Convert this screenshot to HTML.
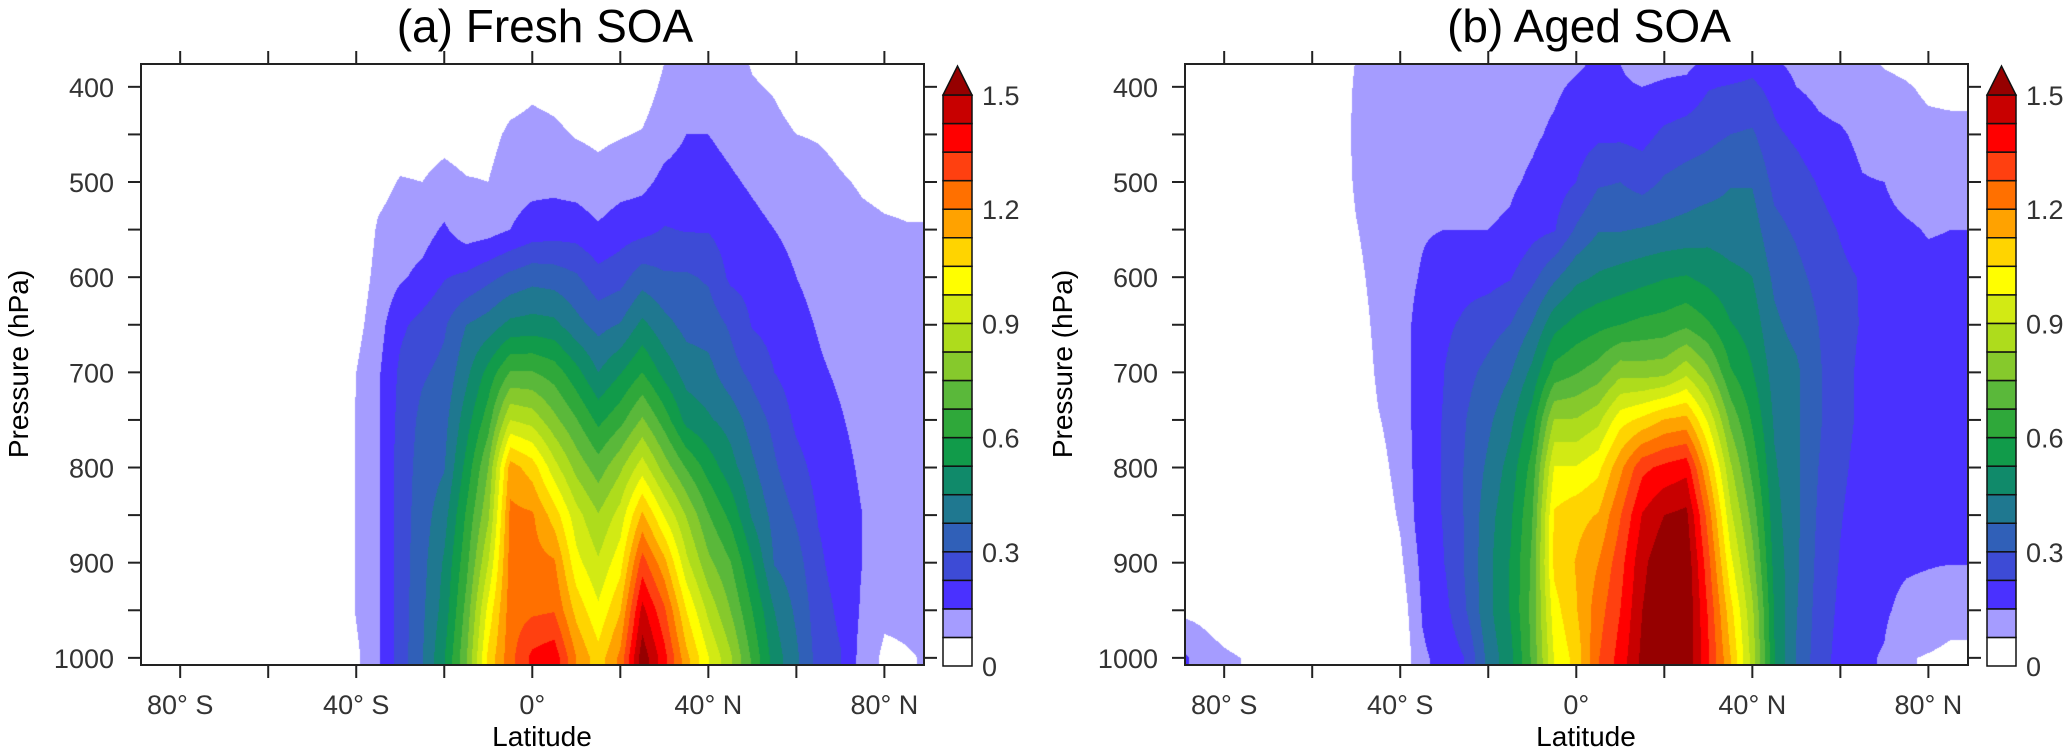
<!DOCTYPE html>
<html><head><meta charset="utf-8"><title>Fresh and aged SOA zonal mean</title>
<style>
body{margin:0;background:#fff}
#wrap{position:relative;width:2067px;height:748px;overflow:hidden;background:#fff}
canvas{position:absolute}
svg{position:absolute;left:0;top:0}
.tk{font-family:"Liberation Sans",sans-serif;font-size:27px;fill:#333}
.ttl{font-family:"Liberation Sans",sans-serif;font-size:46px;fill:#000}
.ax{font-family:"Liberation Sans",sans-serif;font-size:28px;fill:#000}
</style></head>
<body>
<div id="wrap">
<canvas id="cA" width="783" height="601" style="left:141px;top:64px"></canvas>
<canvas id="cB" width="783" height="601" style="left:1185px;top:64px"></canvas>
<svg id="ov" width="2067" height="748"></svg>
</div>
<script>
const levels = [375,400,450,500,550,600,650,700,750,800,850,900,950,1000];
const lats = [-90,-85,-80,-75,-70,-65,-60,-55,-50,-45,-40,-35,-30,-25,-20,-15,-10,-5,0,5,10,15,20,25,30,35,40,45,50,55,60,65,70,75,80,85,90];
const freshValues = [
[0,0,0,0,0,0,0,0,0,0,0,0,0,0],
[0,0,0,0,0,0,0,0,0,0,0,0,0,0],
[0,0,0,0,0,0,0,0,0,0,0,0,0,0],
[0,0,0,0,0,0,0,0,0,0,0,0,0,0],
[0,0,0,0,0,0,0,0,0,0,0,0,0,0],
[0,0,0,0,0,0,0,0,0,0,0,0,0,0],
[0,0,0,0,0,0,0,0,0,0,0,0,0,0],
[0,0,0,0,0,0,0,0,0,0,0,0,0,0],
[0,0,0,0,0,0,0,0,0,0,0,0,0,0],
[0,0,0,0,0,0,0,0,0,0,0,0,0,0],
[0,0,0,0,0.01,0.03,0.05,0.075,0.08,0.08,0.08,0.08,0.08,0.06],
[0,0,0.02,0.05,0.085,0.1,0.12,0.14,0.14,0.14,0.14,0.14,0.14,0.14],
[0,0.01,0.04,0.08,0.11,0.14,0.21,0.24,0.25,0.26,0.26,0.26,0.26,0.26],
[0,0.01,0.04,0.075,0.12,0.17,0.25,0.29,0.32,0.33,0.34,0.35,0.36,0.37],
[0,0.01,0.05,0.1,0.16,0.22,0.29,0.32,0.35,0.37,0.42,0.46,0.48,0.52],
[0,0.01,0.04,0.08,0.11,0.24,0.375,0.43,0.49,0.55,0.61,0.65,0.7,0.74],
[0,0.02,0.05,0.075,0.12,0.28,0.41,0.55,0.64,0.75,0.81,0.9,1.0,1.07],
[0,0.04,0.09,0.12,0.15,0.32,0.47,0.68,0.9,1.16,1.22,1.23,1.24,1.25],
[0.02,0.06,0.1,0.13,0.18,0.35,0.48,0.68,0.87,1.09,1.21,1.23,1.26,1.37],
[0.02,0.05,0.09,0.13,0.19,0.34,0.47,0.64,0.77,0.93,1.09,1.21,1.27,1.4],
[0,0.03,0.07,0.12,0.19,0.31,0.4,0.55,0.68,0.8,0.93,1.0,1.1,1.2],
[0,0.02,0.06,0.1,0.16,0.25,0.35,0.45,0.58,0.71,0.83,0.91,0.99,1.08],
[0,0.02,0.07,0.12,0.19,0.27,0.38,0.52,0.65,0.81,0.93,1.02,1.12,1.22],
[0.02,0.04,0.08,0.13,0.2,0.34,0.47,0.6,0.76,0.94,1.14,1.31,1.45,1.55],
[0.075,0.09,0.12,0.17,0.23,0.31,0.4,0.5,0.64,0.79,0.97,1.15,1.29,1.38],
[0.09,0.11,0.15,0.18,0.22,0.31,0.35,0.42,0.5,0.67,0.82,0.92,1.05,1.15],
[0.11,0.12,0.15,0.18,0.22,0.29,0.34,0.4,0.46,0.57,0.68,0.77,0.88,0.98],
[0.1,0.11,0.13,0.16,0.19,0.21,0.29,0.33,0.42,0.48,0.58,0.68,0.75,0.84],
[0.07,0.08,0.11,0.14,0.17,0.2,0.22,0.28,0.34,0.39,0.44,0.53,0.6,0.66],
[0.06,0.07,0.09,0.12,0.15,0.18,0.2,0.225,0.28,0.31,0.35,0.37,0.45,0.49],
[0.04,0.05,0.075,0.11,0.13,0.15,0.17,0.19,0.21,0.25,0.29,0.33,0.36,0.39],
[0.04,0.05,0.07,0.095,0.11,0.13,0.145,0.16,0.18,0.2,0.22,0.24,0.26,0.27],
[0.03,0.04,0.06,0.08,0.095,0.11,0.12,0.14,0.155,0.17,0.18,0.19,0.21,0.23],
[0.02,0.03,0.05,0.07,0.085,0.1,0.11,0.12,0.13,0.14,0.15,0.15,0.14,0.12],
[0.01,0.02,0.04,0.065,0.08,0.09,0.095,0.1,0.1,0.1,0.1,0.1,0.09,0.06],
[0.01,0.02,0.04,0.065,0.077,0.09,0.095,0.1,0.1,0.1,0.1,0.1,0.09,0.07],
[0.01,0.02,0.04,0.065,0.077,0.09,0.095,0.1,0.1,0.1,0.1,0.1,0.09,0.08]
];
const agedValues = [
[0,0,0,0,0,0,0,0,0,0,0,0,0.06,0.17],
[0,0,0,0,0,0,0,0,0,0,0,0,0.05,0.12],
[0,0,0,0,0,0,0,0,0,0,0,0,0.02,0.09],
[0,0,0,0,0,0,0,0,0,0,0,0,0,0.07],
[0,0,0,0,0,0,0,0,0,0,0,0,0,0],
[0,0,0,0,0,0,0,0,0,0,0,0,0,0],
[0,0,0,0,0,0,0,0,0,0,0,0,0,0],
[0,0,0,0,0,0,0,0,0,0,0,0,0,0],
[0.08,0.09,0.1,0.09,0.07,0.05,0.03,0.01,0,0,0,0,0,0],
[0.1,0.11,0.12,0.12,0.12,0.11,0.1,0.09,0.07,0.05,0.03,0.01,0,0],
[0.12,0.13,0.13,0.13,0.13,0.13,0.13,0.12,0.11,0.1,0.085,0.06,0.03,0.01],
[0.13,0.135,0.14,0.14,0.145,0.155,0.17,0.18,0.19,0.19,0.19,0.17,0.155,0.14],
[0.13,0.135,0.135,0.14,0.15,0.18,0.21,0.225,0.23,0.23,0.23,0.225,0.2,0.17],
[0.12,0.125,0.13,0.13,0.15,0.2,0.24,0.28,0.3,0.31,0.31,0.31,0.3,0.23],
[0.1,0.11,0.12,0.13,0.15,0.2,0.27,0.32,0.36,0.39,0.42,0.43,0.43,0.4],
[0.11,0.12,0.13,0.14,0.16,0.22,0.3,0.37,0.43,0.48,0.51,0.53,0.53,0.5],
[0.12,0.13,0.14,0.16,0.2,0.28,0.38,0.47,0.56,0.63,0.67,0.69,0.7,0.69],
[0.12,0.14,0.16,0.19,0.22,0.36,0.5,0.63,0.83,0.98,1.06,1.07,1.02,0.98],
[0.14,0.16,0.19,0.225,0.31,0.43,0.55,0.67,0.83,0.98,1.1,1.13,1.12,1.08],
[0.16,0.17,0.21,0.29,0.37,0.46,0.58,0.71,0.88,1.03,1.13,1.2,1.24,1.27],
[0.15,0.16,0.21,0.3,0.37,0.48,0.6,0.8,1.02,1.18,1.27,1.32,1.35,1.38],
[0.12,0.15,0.2,0.27,0.38,0.5,0.62,0.79,1.07,1.33,1.43,1.48,1.5,1.52],
[0.13,0.16,0.24,0.31,0.39,0.52,0.63,0.8,1.13,1.37,1.5,1.56,1.57,1.57],
[0.13,0.17,0.26,0.33,0.4,0.53,0.66,0.88,1.15,1.4,1.52,1.56,1.57,1.56],
[0.17,0.22,0.28,0.34,0.42,0.5,0.61,0.77,0.96,1.12,1.24,1.3,1.34,1.36],
[0.18,0.23,0.3,0.37,0.41,0.47,0.53,0.61,0.73,0.84,0.92,1.0,1.08,1.13],
[0.2,0.24,0.31,0.37,0.41,0.45,0.49,0.53,0.59,0.65,0.72,0.78,0.84,0.87],
[0.16,0.2,0.24,0.28,0.32,0.36,0.39,0.42,0.44,0.46,0.48,0.5,0.52,0.53],
[0.13,0.15,0.21,0.26,0.29,0.32,0.35,0.39,0.39,0.39,0.39,0.39,0.38,0.37],
[0.1,0.13,0.17,0.22,0.25,0.28,0.3,0.31,0.31,0.3,0.29,0.28,0.27,0.26],
[0.08,0.11,0.16,0.19,0.22,0.24,0.25,0.25,0.25,0.24,0.23,0.22,0.21,0.2],
[0.09,0.1,0.13,0.155,0.19,0.22,0.22,0.21,0.21,0.2,0.19,0.18,0.17,0.16],
[0.07,0.09,0.11,0.15,0.17,0.18,0.19,0.19,0.18,0.18,0.175,0.17,0.16,0.145],
[0.06,0.08,0.1,0.12,0.16,0.18,0.19,0.19,0.19,0.18,0.17,0.16,0.13,0.08],
[0.04,0.065,0.09,0.11,0.145,0.17,0.18,0.18,0.18,0.17,0.165,0.155,0.12,0.07],
[0.04,0.06,0.09,0.11,0.15,0.17,0.18,0.18,0.17,0.165,0.16,0.152,0.1,0.06],
[0.04,0.06,0.09,0.11,0.15,0.17,0.18,0.18,0.17,0.165,0.16,0.152,0.1,0.06]
];
const bandColors = ["#ffffff","#a59cff","#4a31ff","#3d4bd6","#3060b8","#1f7890","#108a6a","#119b4a","#2fa83a","#5ab83a","#86c92c","#aedc1c","#d2ea14","#fffe00","#ffd400","#ffa200","#ff7000","#ff4010","#ff0000","#c80000","#960000"];
const bandStep = 0.075;
const cbarLabels = ["0","0.3","0.6","0.9","1.2","1.5"];
const cbarLabelValues = [0,0.3,0.6,0.9,1.2,1.5];
const xTickValues = [-80,-60,-40,-20,0,20,40,60,80];
const xTickLabels = {"-80":"80° S","-40":"40° S","0":"0°","40":"40° N","80":"80° N"};
const yTickValues = [400,450,500,550,600,650,700,750,800,850,900,950,1000];
const yLabelValues = [400,500,600,700,800,900,1000];

const PW=783, PH=601, TOP=64, LAT0=-88.9, LAT1=89, P0=376, P1=1007.5;
function xScale(lat, left){ return left + (lat-LAT0)/(LAT1-LAT0)*PW; }
function yScale(p){ return TOP + (p-P0)/(P1-P0)*PH; }
function cbY(v){ return 666 - v/bandStep*28.55; }

function sample(vals, lat, p){
  let fi=(lat-lats[0])/5; fi=Math.max(0,Math.min(lats.length-1,fi));
  const i0=Math.min(Math.floor(fi),lats.length-2), ti=fi-i0;
  const pc=Math.max(levels[0],Math.min(levels[levels.length-1],p));
  let j=0; while(j<levels.length-2 && pc>levels[j+1]) j++;
  const tj=(pc-levels[j])/(levels[j+1]-levels[j]);
  const a=vals[i0][j]*(1-tj)+vals[i0][j+1]*tj;
  const b=vals[i0+1][j]*(1-tj)+vals[i0+1][j+1]*tj;
  return a*(1-ti)+b*ti;
}
function hex(c){return [parseInt(c.substr(1,2),16),parseInt(c.substr(3,2),16),parseInt(c.substr(5,2),16)];}
const rgb = bandColors.map(hex);
function drawField(id, vals){
  const cv=document.getElementById(id), ctx=cv.getContext('2d');
  const img=ctx.createImageData(PW,PH);
  for(let y=0;y<PH;y++){
    const p=P0+(y+0.5)/PH*(P1-P0);
    for(let x=0;x<PW;x++){
      const lat=LAT0+(x+0.5)/PW*(LAT1-LAT0);
      const v=sample(vals,lat,p);
      let k=Math.floor(v/bandStep+1e-9); k=Math.max(0,Math.min(20,k));
      const c=rgb[k], o=(y*PW+x)*4;
      img.data[o]=c[0];img.data[o+1]=c[1];img.data[o+2]=c[2];img.data[o+3]=255;
    }
  }
  ctx.putImageData(img,0,0);
}
drawField('cA', freshValues);
drawField('cB', agedValues);

const NS="http://www.w3.org/2000/svg", ov=document.getElementById('ov');
function mk(tag, attrs, parent){
  const e=document.createElementNS(NS,tag);
  for(const k in attrs) e.setAttribute(k,attrs[k]);
  (parent||ov).appendChild(e); return e;
}
function panel(left, title, key){
  const g=mk('g',{});
  
  
  const right=left+PW, bottom=TOP+PH;
  const fr=mk('rect',{x:left,y:TOP,width:PW,height:PH,fill:'none',stroke:'#222','stroke-width':2},g);
  
  
  xTickValues.forEach(v=>{
    const x=xScale(v,left);
    const t1=mk('line',{x1:x,y1:bottom,x2:x,y2:bottom+13,stroke:'#222','stroke-width':2},g);
    
    
    const t2=mk('line',{x1:x,y1:TOP,x2:x,y2:TOP-13,stroke:'#222','stroke-width':2},g);
    
    
    if(xTickLabels[String(v)]){
      const tx=mk('text',{x:x,y:714,'text-anchor':'middle',class:'tk'},g);
      tx.textContent=xTickLabels[String(v)];
      
      
    }
  });
  yTickValues.forEach(v=>{
    const y=yScale(v);
    const t1=mk('line',{x1:left-13,y1:y,x2:left,y2:y,stroke:'#222','stroke-width':2},g);
    
    
    const t2=mk('line',{x1:right,y1:y,x2:right+13,y2:y,stroke:'#222','stroke-width':2},g);
    
    
  });
  yLabelValues.forEach(v=>{
    const tx=mk('text',{x:left-27,y:yScale(v)+10,'text-anchor':'end',class:'tk'},g);
    tx.textContent=String(v);
    
    
  });
  const tt=mk('text',{x:left+404,y:42,'text-anchor':'middle',class:'ttl'},g);
  tt.textContent=title;
  
  
  const xt=mk('text',{x:left+401,y:746,'text-anchor':'middle',class:'ax'},g);
  xt.textContent='Latitude';
  
  
  const yt=mk('text',{x:0,y:0,'text-anchor':'middle',class:'ax',transform:'translate('+(left-113)+',364) rotate(-90)'},g);
  yt.textContent='Pressure (hPa)';
  
  
  const cx=left+802, cw=29;
  const cg=mk('g',{},g);
  
  
  for(let k=0;k<20;k++){
    const y0=cbY((k+1)*bandStep), y1=cbY(k*bandStep);
    const r=mk('rect',{x:cx,y:y0,width:cw,height:y1-y0,fill:bandColors[k],stroke:'#111','stroke-width':1.5},cg);
    
    
  }
  const topY=cbY(20*bandStep);
  const tri=mk('polygon',{points:cx+','+topY+' '+(cx+cw)+','+topY+' '+(cx+cw/2)+','+(topY-29),fill:bandColors[20],stroke:'#111','stroke-width':1.5},cg);
  
  
  cbarLabelValues.forEach((v,i)=>{
    const tx=mk('text',{x:cx+39,y:cbY(v)+10,class:'tk'},cg);
    tx.textContent=cbarLabels[i];
    
    
  });
}
panel(141,'(a) Fresh SOA','fresh-soa');
panel(1185,'(b) Aged SOA','aged-soa');
</script>
</body></html>
